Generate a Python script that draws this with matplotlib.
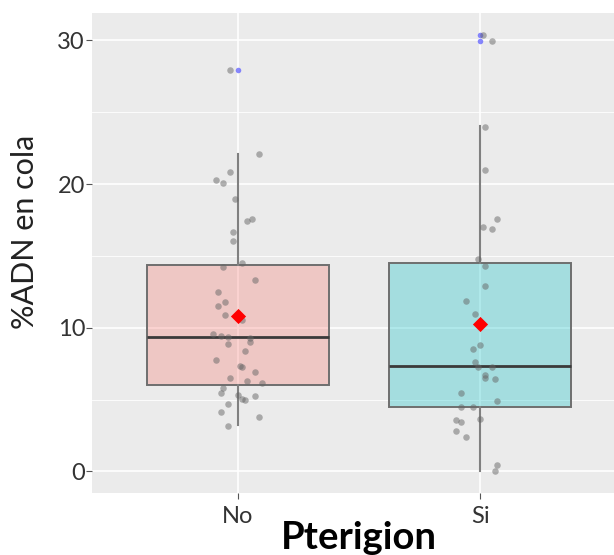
import matplotlib
matplotlib.use("Agg")
import matplotlib.pyplot as plt
from matplotlib.ticker import MultipleLocator

# groups and box statistics
groups = ["No", "Si"]
box_fill = ["#F8766D", "#00BFC4"]
q1 = [6.0, 4.5]
median = [9.33, 7.33]
q3 = [14.37, 14.5]
whisker_low = [3.2, 0.0]
whisker_high = [22.1, 24.05]
means = [10.8, 10.25]
outliers = [[27.95], [30.36, 29.92]]

# jittered observations (value, horizontal jitter offset)
no_values = [27.95, 22.1, 20.87, 20.3, 20.06, 18.96, 17.44, 17.6, 16.63, 16.0,
             14.51, 14.21, 13.34, 12.49, 11.77, 11.49, 10.9, 10.53, 9.58, 9.44,
             9.37, 9.31, 9.03, 8.89, 8.41, 7.74, 7.33, 7.26, 6.93, 6.52,
             6.31, 6.13, 5.8, 5.46, 5.34, 5.23, 5.07, 4.98, 4.68, 4.13,
             3.8, 3.18]
no_jitter = [-0.03, 0.09, -0.03, -0.09, -0.06, -0.01, 0.04, 0.06, -0.02, -0.02,
             0.02, -0.06, 0.07, -0.08, -0.05, -0.08, -0.05, 0.02, -0.10, -0.07,
             -0.04, 0.05, 0.05, -0.04, 0.03, -0.09, 0.01, 0.02, 0.07, -0.03,
             0.04, 0.10, -0.06, -0.07, 0.0, 0.07, 0.02, 0.03, -0.04, -0.07,
             0.09, -0.04]
si_values = [30.36, 29.92, 24.0, 20.99, 17.6, 16.98, 16.86, 14.79, 14.28, 12.92,
             11.87, 10.94, 8.78, 8.55, 7.62, 7.26, 7.26, 6.73, 6.52, 6.4,
             5.44, 4.91, 4.47, 4.47, 3.66, 3.57, 3.43, 2.81, 2.4, 0.48,
             0.0]
si_jitter = [0.01, 0.05, 0.02, 0.02, 0.07, 0.01, 0.05, -0.01, 0.02, 0.02,
             -0.06, -0.02, 0.0, -0.03, -0.02, -0.01, 0.05, 0.02, 0.02, 0.06,
             -0.08, 0.07, -0.08, -0.03, 0.0, -0.10, -0.08, -0.10, -0.06, 0.07,
             0.06]

yticks = [0, 10, 20, 30]

fig = plt.figure(figsize=(6.14, 5.55), dpi=100)
# panel runs a little past the right edge of the image, as in the original
ax = fig.add_axes([0.1498, 0.1117, 0.8697, 0.8649])
ax.set_facecolor("#EBEBEB")
for s in ax.spines.values():
    s.set_visible(False)

positions = [1, 2]
stats = []
for i, g in enumerate(groups):
    stats.append(dict(label=g, med=median[i], q1=q1[i], q3=q3[i],
                      whislo=whisker_low[i], whishi=whisker_high[i],
                      fliers=[]))

bp = ax.bxp(stats, positions=positions, widths=0.75, patch_artist=True,
            showfliers=False, zorder=2,
            boxprops=dict(linewidth=1.4, edgecolor="#6E6E6E"),
            whiskerprops=dict(color="#808080", linewidth=1.5),
            capprops=dict(linewidth=0),
            medianprops=dict(color="#3A3A3A", linewidth=2.0))
for patch, c in zip(bp["boxes"], box_fill):
    patch.set_facecolor(matplotlib.colors.to_rgba(c, 0.3))

# outliers of the boxplot
for p, outs in zip(positions, outliers):
    ax.scatter([p] * len(outs), outs, s=16, color="#6060FF", alpha=0.75,
               linewidths=0, zorder=3)

# jittered points
for p, vals, jit in [(1, no_values, no_jitter), (2, si_values, si_jitter)]:
    ax.scatter([p + j for j in jit], vals, s=22, color="#666666", alpha=0.5,
               linewidths=0, zorder=4)

# means
ax.scatter(positions, means, marker="D", s=60, color="red", linewidths=0,
           zorder=5)

ax.set_xlim(0.4, 2.6)
ax.set_ylim(-1.5, 31.9)
ax.set_xticks(positions)
ax.set_xticklabels(groups)
ax.set_yticks(yticks)
ax.yaxis.set_minor_locator(MultipleLocator(5))
ax.grid(which="major", color="white", linewidth=1.2, zorder=0)
ax.grid(which="minor", axis="y", color="white", linewidth=0.6, zorder=0)
ax.set_axisbelow(True)
ax.tick_params(axis="both", which="major", length=4, color="#555555",
               labelsize=17, labelcolor="#333333", width=0.8)
ax.tick_params(axis="y", pad=1)
ax.tick_params(axis="x", pad=5)
ax.tick_params(axis="y", which="minor", length=0)
for lab in ax.get_xticklabels() + ax.get_yticklabels():
    lab.set_family("Lato")

ax.set_ylabel("%ADN en cola", fontsize=22, family="Lato", color="#222222")
ax.yaxis.set_label_coords(-0.099, 0.544)
ax.set_xlabel("Pterigion", fontsize=27.5, fontweight="bold", family="Lato",
              labelpad=-4)

fig.savefig("out.png", dpi=100)
